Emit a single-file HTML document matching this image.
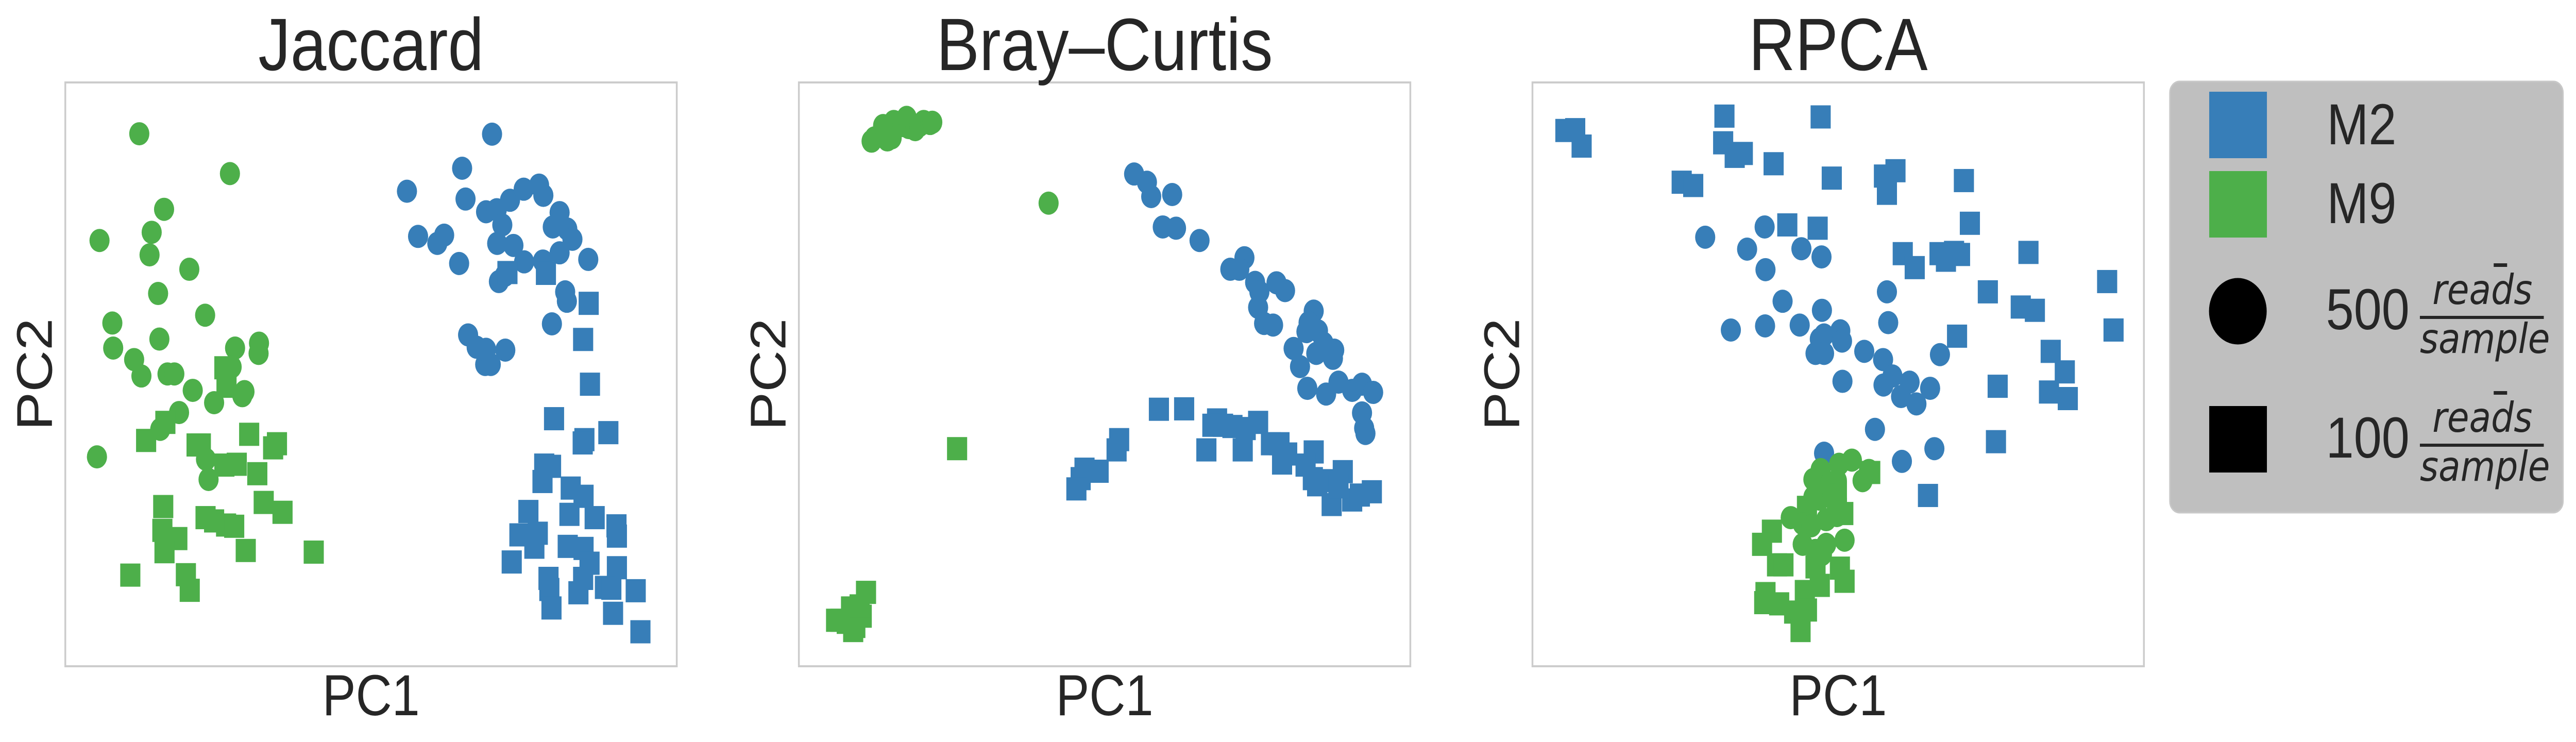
<!DOCTYPE html>
<html><head><meta charset="utf-8">
<style>
html,body{margin:0;padding:0;background:#fff;width:100%;height:100%;overflow:hidden;}
svg{display:block;width:100vw;height:100vh;}
text{font-family:"Liberation Sans",Arial,sans-serif;fill:#262626;}
</style></head>
<body>
<svg id="fig" viewBox="0 0 5759 1440" preserveAspectRatio="none" xmlns="http://www.w3.org/2000/svg">
<g id="panels"></g>
<g id="legend">
  <rect x="4851" y="158" width="879" height="837" rx="22" fill="#bfbfbf" stroke="#c8c8c8" stroke-width="3"/>
  <rect x="4939" y="178" width="129" height="129" fill="#377eb8"/>
  <text x="5202" y="280" font-size="112">M2</text>
  <rect x="4939" y="332" width="129" height="129" fill="#4daf4a"/>
  <text x="5202" y="433" font-size="112">M9</text>
  <circle cx="5003" cy="604" r="64.5" fill="#000"/>
  <text x="5200" y="639" font-size="112">500</text>
  <text x="5438" y="590" font-size="80" font-style="italic" style="font-family:'DejaVu Sans',sans-serif">reads</text>
  <rect x="5575" y="511" width="30" height="7" fill="#262626"/>
  <rect x="5410" y="613" width="277" height="6" fill="#262626"/>
  <text x="5410" y="685" font-size="80" font-style="italic" style="font-family:'DejaVu Sans',sans-serif">sample</text>
  <rect x="4939" y="788" width="129" height="129" fill="#000"/>
  <text x="5200" y="888" font-size="112">100</text>
  <text x="5438" y="838" font-size="80" font-style="italic" style="font-family:'DejaVu Sans',sans-serif">reads</text>
  <rect x="5575" y="759" width="30" height="7" fill="#262626"/>
  <rect x="5410" y="861" width="277" height="6" fill="#262626"/>
  <text x="5410" y="933" font-size="80" font-style="italic" style="font-family:'DejaVu Sans',sans-serif">sample</text>
</g>
</svg>
<script>
const panelTitles = ["Jaccard", "Bray\u2013Curtis", "RPCA"];
const xDomain = [48, 1478];
const yDomain = [1497, 75];

const jaccardM9Circle = [[221,200],[433,297],[279,384],[128,460],[250,440],[245,495],[338,530],[265,589],[158,661],[375,642],[268,700],[160,722],[209,750],[226,790],[445,722],[501,710],[500,735],[437,768],[287,785],[303,785],[346,825],[467,828],[462,838],[396,855],[314,879],[270,920],[122,987],[377,993],[383,1042]];
const jaccardM9Square = [[420,770],[425,815],[282,903],[237,947],[355,958],[365,958],[478,932],[543,955],[534,965],[449,1005],[420,1007],[497,1028],[277,1108],[512,1098],[556,1122],[376,1135],[396,1143],[424,1153],[443,1156],[275,1166],[310,1186],[280,1218],[470,1215],[629,1219],[200,1275],[330,1274],[339,1312]];
const jaccardM2Circle = [[1046,201],[976,284],[847,340],[984,359],[1088,362],[1120,335],[1156,325],[1166,350],[1032,390],[1057,385],[1070,422],[1204,392],[1188,427],[1222,432],[1234,457],[873,450],[918,467],[934,447],[969,516],[1058,467],[1096,472],[1121,512],[1165,510],[1204,490],[1271,506],[1062,560],[1076,545],[1217,585],[1221,608],[1186,663],[990,690],[1010,720],[1032,725],[1077,727],[1030,762],[1043,762]];
const jaccardM2Square = [[1082,538],[1172,540],[1272,613],[1259,701],[1275,810],[1191,894],[1262,945],[1258,953],[1318,928],[1168,1007],[1184,1010],[1164,1047],[1230,1063],[1260,1083],[1131,1120],[1227,1127],[1286,1135],[1337,1155],[1338,1180],[1110,1177],[1153,1173],[1145,1207],[1223,1205],[1260,1210],[1274,1246],[1092,1243],[1338,1257],[1259,1283],[1178,1283],[1180,1310],[1248,1318],[1310,1305],[1325,1307],[1382,1313],[1185,1355],[1329,1368],[1393,1413]];

const brayM9Circle = [[218,218],[225,210],[250,205],[255,215],[265,210],[245,180],[270,170],[290,180],[300,160],[305,185],[320,190],[330,180],[340,170],[355,175],[360,172],[632,369]];
const brayM9Square = [[418,967],[205,1317],[170,1355],[145,1385],[135,1385],[195,1375],[180,1400],[175,1410],[160,1390],[190,1350]];
const brayM2Circle = [[832,298],[862,318],[872,353],[921,348],[899,427],[930,430],[985,460],[1090,502],[1078,530],[1057,530],[1115,562],[1125,585],[1165,563],[1185,582],[1122,623],[1136,662],[1157,666],[1252,632],[1240,660],[1235,682],[1262,680],[1258,735],[1275,710],[1300,727],[1297,747],[1205,723],[1220,767],[1237,820],[1281,834],[1310,805],[1342,825],[1365,810],[1391,830],[1365,880],[1370,917],[1373,930]];
const brayM2Square = [[890,871],[949,870],[797,945],[791,970],[716,1017],[707,1040],[749,1022],[697,1065],[1026,897],[1015,910],[1040,910],[1062,913],[1122,903],[1093,918],[1001,970],[1086,970],[1152,955],[1172,955],[1190,980],[1178,1002],[1252,975],[1233,1007],[1250,1040],[1260,1055],[1320,1023],[1285,1045],[1294,1103],[1342,1092],[1360,1080],[1388,1072],[1310,1060]];

const rpcaM2Square = [[125,192],[148,190],[163,230],[497,157],[722,159],[494,222],[521,255],[540,248],[612,273],[397,318],[424,326],[748,308],[870,303],[897,290],[877,345],[1057,314],[644,422],[715,430],[1071,418],[914,492],[942,526],[1000,492],[1015,508],[1034,489],[1048,494],[1208,489],[1392,560],[1113,585],[1190,622],[1223,630],[1407,678],[1041,693],[1260,730],[1293,780],[1136,815],[1256,829],[1300,845],[1132,950],[973,1081]];
const rpcaM2Circle = [[452,452],[591,427],[550,481],[677,480],[724,500],[593,531],[633,608],[725,630],[877,585],[880,660],[512,678],[592,668],[673,666],[730,690],[768,680],[772,705],[720,700],[710,735],[730,735],[824,730],[868,750],[1001,738],[773,803],[890,790],[869,812],[930,805],[978,820],[910,840],[946,858],[849,920],[988,967],[912,998],[730,978]];
const rpcaM9Circle = [[722,1018],[765,1005],[795,995],[835,1020],[820,1045],[705,1042],[745,1050],[760,1045],[705,1085],[720,1090],[750,1080],[652,1135],[680,1150],[700,1155],[735,1140],[760,1130],[778,1190],[680,1200],[710,1215],[735,1200],[725,1225]];
const rpcaM9Square = [[838,1025],[740,1050],[760,1075],[690,1110],[760,1115],[775,1125],[608,1168],[585,1200],[620,1250],[635,1250],[710,1255],[767,1258],[778,1290],[720,1300],[593,1320],[590,1342],[625,1345],[685,1315],[660,1365],[690,1360],[675,1410]];

const NS = "http://www.w3.org/2000/svg";
const BLUE = "#377eb8", GREEN = "#4daf4a";
const panelLefts = [146, 1786, 3426];
const PW = 1367, PT = 160, PH = 1133;

function xScale(i, v){ return panelLefts[i] + (v - xDomain[0]) / (xDomain[1] - xDomain[0]) * PW; }
function yScale(v){ return PT + (v - yDomain[1]) / (yDomain[0] - yDomain[1]) * PH; }

const panelSeries = [
  [[jaccardM2Circle,BLUE,"circle","m2-500"],[jaccardM9Circle,GREEN,"circle","m9-500"],[jaccardM9Square,GREEN,"square","m9-100"],[jaccardM2Square,BLUE,"square","m2-100"]],
  [[brayM2Circle,BLUE,"circle","m2-500"],[brayM9Circle,GREEN,"circle","m9-500"],[brayM9Square,GREEN,"square","m9-100"],[brayM2Square,BLUE,"square","m2-100"]],
  [[rpcaM2Square,BLUE,"square","m2-100"],[rpcaM2Circle,BLUE,"circle","m2-500"],[rpcaM9Square,GREEN,"square","m9-100"],[rpcaM9Circle,GREEN,"circle","m9-500"]]
];
const slugs = ["jaccard","bray-curtis","rpca"];
const root = document.getElementById("panels");

for (let i = 0; i < 3; i++) {
  const g = document.createElementNS(NS, "g");
  
  
  root.appendChild(g);

  const frame = document.createElementNS(NS, "rect");
  
  
  frame.setAttribute("x", panelLefts[i]); frame.setAttribute("y", PT);
  frame.setAttribute("width", PW); frame.setAttribute("height", PH);
  frame.setAttribute("fill", "#fff"); frame.setAttribute("stroke", "#cccccc"); frame.setAttribute("stroke-width", "4");
  g.appendChild(frame);

  const title = document.createElementNS(NS, "text");
  
  
  title.setAttribute("x", panelLefts[i] + PW/2); title.setAttribute("y", 136);
  title.setAttribute("font-size", "144"); title.setAttribute("text-anchor", "middle");
  title.textContent = panelTitles[i];
  g.appendChild(title);

  const xl = document.createElementNS(NS, "text");
  
  
  xl.setAttribute("x", panelLefts[i] + PW/2); xl.setAttribute("y", 1388);
  xl.setAttribute("font-size", "112"); xl.setAttribute("text-anchor", "middle");
  xl.textContent = "PC1";
  g.appendChild(xl);

  const yl = document.createElementNS(NS, "text");
  
  
  const yx = panelLefts[i] - 30, yy = PT + PH/2;
  yl.setAttribute("x", yx); yl.setAttribute("y", yy);
  yl.setAttribute("transform", "rotate(-90 " + yx + " " + yy + ")");
  yl.setAttribute("font-size", "112"); yl.setAttribute("text-anchor", "middle");
  yl.textContent = "PC2";
  g.appendChild(yl);

  const ptsG = document.createElementNS(NS, "g");
  
  
  g.appendChild(ptsG);

  panelSeries[i].forEach(function(s){
    const pts = s[0], col = s[1], shape = s[2], nm = s[3];
    pts.forEach(function(p){
      const cx = xScale(i, p[0]), cy = yScale(p[1]);
      let el;
      if (shape === "circle") {
        el = document.createElementNS(NS, "circle");
        el.setAttribute("cx", cx); el.setAttribute("cy", cy); el.setAttribute("r", 22.5);
      } else {
        el = document.createElementNS(NS, "rect");
        el.setAttribute("x", cx - 22.5); el.setAttribute("y", cy - 22.5);
        el.setAttribute("width", 45); el.setAttribute("height", 45);
      }
      
      
      el.setAttribute("fill", col);
      ptsG.appendChild(el);
    });
  });
}
</script>
</body></html>
